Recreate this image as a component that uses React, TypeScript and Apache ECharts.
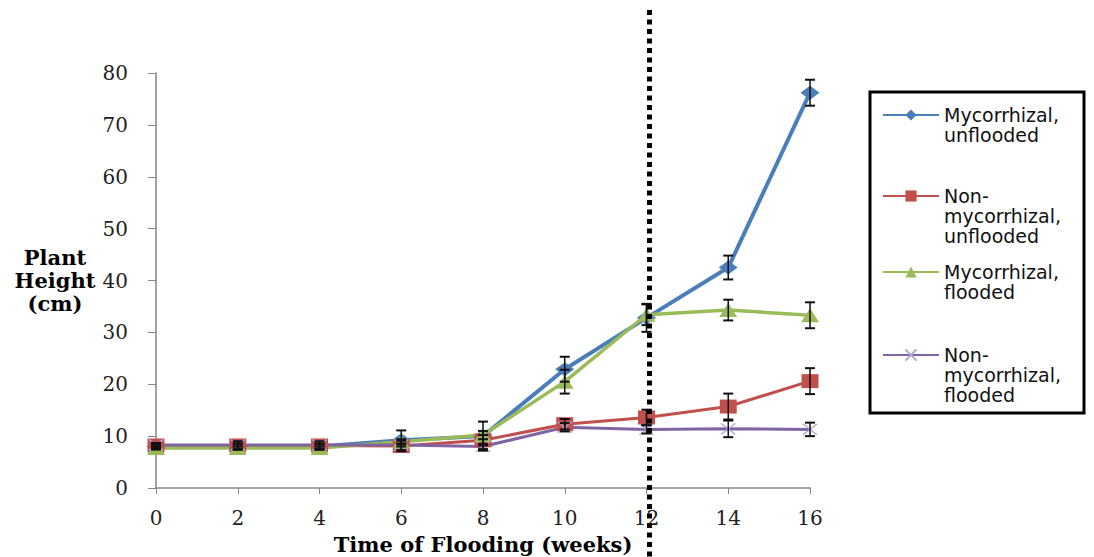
import React, { useEffect, useRef } from "react";
import * as echarts from "echarts";

const weeks = [0, 2, 4, 6, 8, 10, 12, 14, 16];
const seriesNames = [
  "Mycorrhizal, unflooded",
  "Non-mycorrhizal, unflooded",
  "Mycorrhizal, flooded",
  "Non-mycorrhizal, flooded",
];
const legendLabels = [
  ["Mycorrhizal,", "unflooded"],
  ["Non-", "mycorrhizal,", "unflooded"],
  ["Mycorrhizal,", "flooded"],
  ["Non-", "mycorrhizal,", "flooded"],
];
const mycUnflooded = [8.0, 8.0, 8.0, 9.2, 10.0, 22.9, 32.8, 42.5, 76.2];
const mycUnfloodedErr = [0.3, 0.5, 0.5, 1.9, 2.8, 2.4, 2.7, 2.3, 2.5];
const nonMycUnflooded = [8.2, 8.2, 8.2, 8.1, 9.2, 12.3, 13.6, 15.7, 20.6];
const nonMycUnfloodedErr = [0.5, 0.8, 0.8, 1.0, 1.0, 1.0, 1.5, 2.5, 2.5];
const mycFlooded = [7.7, 7.7, 7.7, 8.9, 10.2, 20.5, 33.4, 34.3, 33.3];
const mycFloodedErr = [0.3, 0.3, 0.3, 0.5, 0.8, 2.3, 2.0, 2.0, 2.5];
const nonMycFlooded = [8.3, 8.3, 8.3, 8.3, 8.0, 11.7, 11.3, 11.4, 11.3];
const nonMycFloodedErr = [0.3, 0.3, 0.3, 0.3, 0.5, 0.8, 0.8, 1.6, 1.3];
const floodStartWeek = 12;
const yTicks = { min: 0, max: 80, interval: 10 };
const xTicks = { min: 0, max: 16, interval: 2 };

const values = [mycUnflooded, nonMycUnflooded, mycFlooded, nonMycFlooded];
const errors = [mycUnfloodedErr, nonMycUnfloodedErr, mycFloodedErr, nonMycFloodedErr];
const colors = ["#4A7EBB", "#C0504D", "#9BBB59", "#8064A2"];
const symbols = [
  "diamond",
  "rect",
  "triangle",
  "path://M0,0L10,10M10,0L0,10",
];
const symbolSizes: any[] = [[19, 14], [17, 14], [18, 14], [14, 11]];
const lineWidths = [4, 3, 3.5, 3];
const legendIconY = [115, 196, 272, 355];

export default function App() {
  const ref = useRef<HTMLDivElement>(null);
  useEffect(() => {
    if (!ref.current) return;
    const chart = echarts.init(ref.current, null, { renderer: "svg" });
    const lh = 20;
    const lineSeries = seriesNames.map((name, i) => ({
      name,
      type: "line",
      data: weeks.map((w, j) => [w, values[i][j]]),
      symbol: symbols[i],
      symbolSize: symbolSizes[i],
      showAllSymbol: true,
      z: 3,
      itemStyle: {
        color: colors[i],
        borderColor: i === 3 ? "#B4A7D6" : colors[i],
        borderWidth: i === 3 ? 1.5 : 0,
      },
      lineStyle: { color: colors[i], width: lineWidths[i] },
    }));
    const errSeries = seriesNames.map((name, i) => ({
      name: name + " error",
      type: "custom",
      z: 4,
      encode: { x: 0, y: [1, 2] },
      data: weeks.map((w, j) => [w, values[i][j] - errors[i][j], values[i][j] + errors[i][j]]),
      renderItem: (params: any, api: any) => {
        const x = api.value(0);
        const lo = api.coord([x, api.value(1)]);
        const hi = api.coord([x, api.value(2)]);
        const w = 5;
        const st = { stroke: "#111", lineWidth: 2 };
        return {
          type: "group",
          children: [
            { type: "line", shape: { x1: hi[0], y1: hi[1], x2: lo[0], y2: lo[1] }, style: { stroke: "#111", lineWidth: 1.5 } },
            { type: "line", shape: { x1: hi[0] - w, y1: hi[1], x2: hi[0] + w, y2: hi[1] }, style: st },
            { type: "line", shape: { x1: lo[0] - w, y1: lo[1], x2: lo[0] + w, y2: lo[1] }, style: st },
          ],
        };
      },
    }));
    const legends = seriesNames.map((name, i) => {
      const lines = legendLabels[i];
      const n = lines.length;
      // leading blank lines so that the first text line sits level with the icon
      const text = new Array(n - 1).fill("").concat(lines).join("\n");
      return {
        data: [name],
        left: 882,
        top: legendIconY[i] - ((2 * n - 1) * lh) / 2,
        padding: 0,
        itemWidth: 56,
        itemHeight: 14,
        selectedMode: false,
        formatter: () => text,
        textStyle: {
          fontFamily: "DejaVu Sans",
          fontSize: 19,
          color: "#111",
          lineHeight: lh,
        },
      };
    });
    const axisLine = { lineStyle: { color: "#868686", width: 1.5 } };
    chart.setOption({
      animation: false,
      backgroundColor: "#fff",
      grid: { left: 156, right: 284, top: 73, bottom: 69, outerBoundsMode: "none", containLabel: false },
      legend: legends,
      xAxis: {
        type: "value",
        ...xTicks,
        name: "Time of Flooding (weeks)",
        nameLocation: "middle",
        nameGap: 45,
        nameMoveOverlap: false,
        nameTextStyle: { fontFamily: "DejaVu Serif", fontWeight: "bold", fontSize: 21, lineHeight: 22, color: "#000" },
        axisLine,
        axisTick: { show: true, length: 6, lineStyle: { color: "#868686" } },
        splitLine: { show: false },
        axisLabel: { fontFamily: "DejaVu Serif", fontSize: 20, color: "#222", margin: 20 },
      },
      yAxis: {
        type: "value",
        ...yTicks,
        name: "Plant\nHeight\n(cm)",
        nameLocation: "middle",
        nameRotate: 0,
        nameGap: 101,
        nameMoveOverlap: false,
        nameTextStyle: {
          fontFamily: "DejaVu Serif",
          fontWeight: "bold",
          fontSize: 21,
          color: "#000",
          align: "center",
          lineHeight: 23,
        },
        axisLine: { show: true, ...axisLine },
        axisTick: { show: true, length: 8, lineStyle: { color: "#868686" } },
        splitLine: { show: false },
        axisLabel: { fontFamily: "DejaVu Serif", fontSize: 20, color: "#222", margin: 28 },
      },
      series: [...lineSeries, ...errSeries],
    });
    const px = chart.convertToPixel({ xAxisIndex: 0 }, floodStartWeek) as number;
    chart.setOption({
      graphic: [
        {
          type: "rect",
          shape: { x: 870, y: 92, width: 214, height: 321 },
          style: { fill: "none", stroke: "#000", lineWidth: 3 },
          z: 0,
        },
        {
          type: "line",
          shape: { x1: px + 3, y1: 10, x2: px + 3, y2: 557 },
          style: { stroke: "#000", lineWidth: 5, lineDash: [5, 4.5] },
          z: 10,
        },
      ],
    });
    return () => chart.dispose();
  }, []);
  return <div ref={ref} style={{ width: 1094, height: 557, position: "absolute", left: 0, top: 0 }} />;
}
